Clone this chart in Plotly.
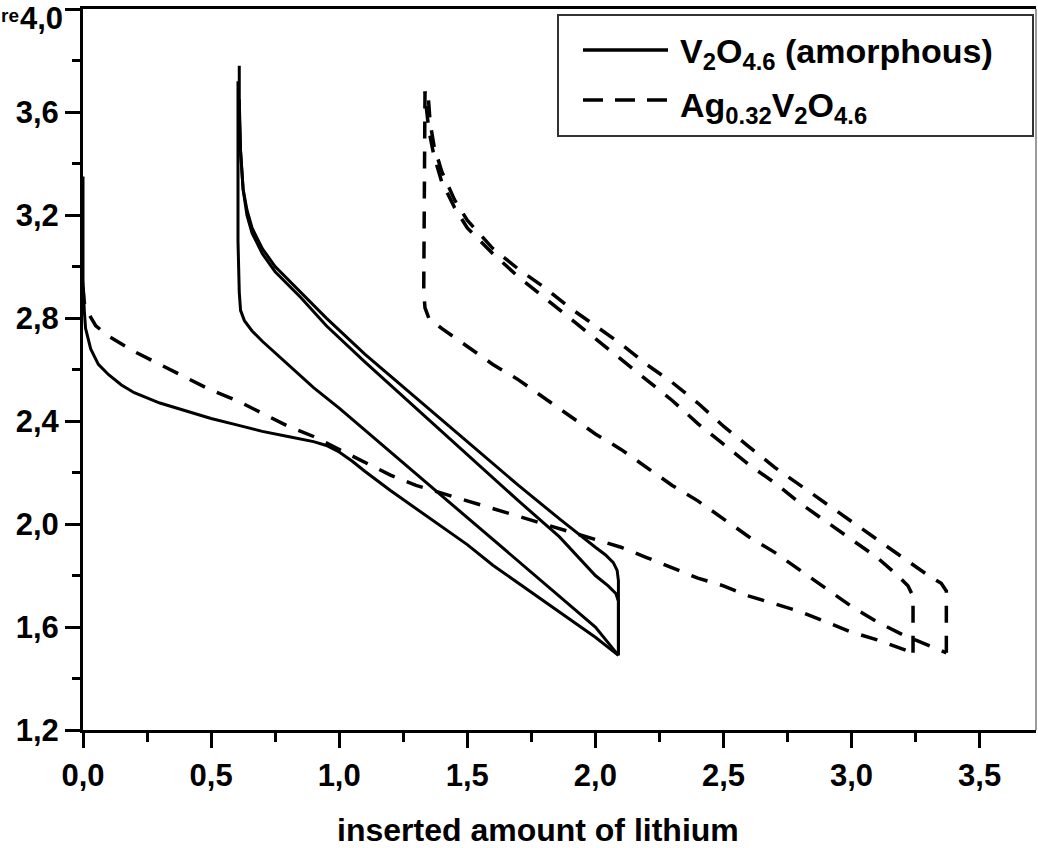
import plotly.graph_objects as go

# ---------------- data ----------------
# V2O4.6 (amorphous) - solid
v_dis1_x = [0.0, 0.0, 0.005, 0.01, 0.03, 0.06, 0.1, 0.15, 0.2, 0.3, 0.4, 0.5, 0.6, 0.7, 0.8, 0.9,
            0.95, 1.0, 1.05, 1.1, 1.2, 1.3, 1.4, 1.5, 1.6, 1.7, 1.8, 1.9, 2.0, 2.09]
v_dis1_y = [3.35, 2.95, 2.83, 2.76, 2.68, 2.62, 2.58, 2.54, 2.51, 2.47, 2.44, 2.41, 2.385, 2.36, 2.34, 2.32,
            2.305, 2.28, 2.245, 2.205, 2.13, 2.06, 1.99, 1.92, 1.84, 1.77, 1.70, 1.63, 1.56, 1.49]

v_ch1_x = [2.09, 2.09, 2.085, 2.07, 2.04, 2.0, 1.86, 1.7, 1.5, 1.3, 1.1, 0.95, 0.85, 0.75, 0.7, 0.66,
           0.64, 0.625, 0.615, 0.61, 0.61]
v_ch1_y = [1.49, 1.78, 1.82, 1.85, 1.88, 1.91, 2.02, 2.15, 2.32, 2.49, 2.66, 2.80, 2.90, 3.00, 3.07, 3.15,
           3.22, 3.30, 3.45, 3.60, 3.78]

v_dis2_x = [0.605, 0.605, 0.61, 0.615, 0.63, 0.66, 0.7, 0.8, 0.9, 1.0, 1.2, 1.4, 1.6, 1.8, 1.86, 2.0, 2.09]
v_dis2_y = [3.72, 3.10, 2.90, 2.83, 2.79, 2.75, 2.71, 2.62, 2.53, 2.45, 2.28, 2.11, 1.94, 1.77, 1.72, 1.60, 1.49]

v_ch2_x = [2.09, 2.09, 2.08, 2.05, 2.0, 1.86, 1.7, 1.5, 1.3, 1.1, 0.95, 0.85, 0.75, 0.7, 0.66, 0.64,
           0.625, 0.615, 0.61]
v_ch2_y = [1.49, 1.70, 1.73, 1.76, 1.80, 1.95, 2.09, 2.27, 2.45, 2.63, 2.77, 2.88, 2.98, 3.05, 3.13, 3.20,
           3.30, 3.45, 3.65]

# Ag0.32V2O4.6 - dashed
ag_dis1_x = [0.0, 0.005, 0.02, 0.05, 0.1, 0.15, 0.2, 0.3, 0.4, 0.5, 0.6, 0.7, 0.8, 0.9, 1.0, 1.1, 1.2,
             1.3, 1.4, 1.5, 1.6, 1.7, 1.8, 1.9, 2.0, 2.1, 2.2, 2.3, 2.4, 2.5, 2.6, 2.7, 2.8, 2.9, 3.0,
             3.1, 3.2, 3.24]
ag_dis1_y = [2.92, 2.86, 2.82, 2.77, 2.73, 2.70, 2.67, 2.62, 2.57, 2.52, 2.48, 2.43, 2.38, 2.34, 2.29,
             2.24, 2.19, 2.15, 2.12, 2.09, 2.06, 2.03, 2.00, 1.97, 1.94, 1.91, 1.87, 1.83, 1.79, 1.76,
             1.72, 1.69, 1.66, 1.62, 1.58, 1.55, 1.515, 1.50]

ag_ch1_x = [3.24, 3.24, 3.22, 3.18, 3.1, 3.0, 2.9, 2.8, 2.7, 2.6, 2.5, 2.4, 2.3, 2.2, 2.1, 2.0, 1.9,
            1.8, 1.7, 1.6, 1.5, 1.45, 1.4, 1.37, 1.35, 1.34, 1.335]
ag_ch1_y = [1.50, 1.72, 1.76, 1.80, 1.87, 1.94, 2.01, 2.08, 2.16, 2.23, 2.31, 2.39, 2.48, 2.56, 2.64,
            2.72, 2.80, 2.88, 2.96, 3.05, 3.15, 3.23, 3.33, 3.43, 3.53, 3.62, 3.68]

ag_dis2_x = [1.335, 1.33, 1.335, 1.35, 1.4, 1.5, 1.6, 1.7, 1.8, 1.9, 2.0, 2.1, 2.2, 2.3, 2.4, 2.5,
             2.6, 2.7, 2.8, 2.9, 3.0, 3.05, 3.1, 3.2, 3.3, 3.37]
ag_dis2_y = [3.68, 2.90, 2.84, 2.80, 2.76, 2.69, 2.62, 2.56, 2.49, 2.42, 2.35, 2.29, 2.22, 2.15, 2.09,
             2.02, 1.95, 1.89, 1.82, 1.75, 1.68, 1.65, 1.62, 1.57, 1.53, 1.50]

ag_ch2_x = [3.37, 3.37, 3.35, 3.3, 3.2, 3.1, 3.0, 2.9, 2.8, 2.7, 2.6, 2.5, 2.4, 2.3, 2.2, 2.1, 2.0,
            1.9, 1.8, 1.7, 1.6, 1.5, 1.45, 1.4, 1.37, 1.355, 1.35, 1.345]
ag_ch2_y = [1.50, 1.74, 1.77, 1.80, 1.87, 1.94, 2.01, 2.08, 2.15, 2.22, 2.30, 2.38, 2.47, 2.55, 2.62,
            2.70, 2.77, 2.84, 2.92, 2.99, 3.07, 3.18, 3.26, 3.37, 3.47, 3.56, 3.63, 3.69]

x_tick_vals = [0.0, 0.5, 1.0, 1.5, 2.0, 2.5, 3.0, 3.5]
y_tick_vals = [1.2, 1.6, 2.0, 2.4, 2.8, 3.2, 3.6, 4.0]
y_tick_text = ["1,2", "1,6", "2,0", "2,4", "2,8", "3,2", "3,6", ""]   # top label drawn separately
y_top_label = "4,0"

legend_solid_label = "V<sub>2</sub>O<sub>4.6</sub> (amorphous)"
legend_dash_label = "Ag<sub>0.32</sub>V<sub>2</sub>O<sub>4.6</sub>"
x_title = "inserted amount of lithium"

# ---------------- figure ----------------
FONT = "Liberation Sans, Arial, sans-serif"
fig = go.Figure()

solid_sets = [(v_dis1_x, v_dis1_y), (v_ch1_x, v_ch1_y), (v_dis2_x, v_dis2_y), (v_ch2_x, v_ch2_y)]
dash_sets = [(ag_dis1_x, ag_dis1_y), (ag_ch1_x, ag_ch1_y), (ag_dis2_x, ag_dis2_y), (ag_ch2_x, ag_ch2_y)]

for xs, ys in solid_sets:
    fig.add_trace(go.Scatter(x=xs, y=ys, mode="lines", showlegend=False,
                             line=dict(color="black", width=3)))
for xs, ys in dash_sets:
    fig.add_trace(go.Scatter(x=xs, y=ys, mode="lines", showlegend=False,
                             line=dict(color="black", width=3.5, dash="17px,13px")))

axis_common = dict(
    showgrid=False, zeroline=False, showline=True, linecolor="black", linewidth=3,
    ticks="outside", ticklen=15, tickwidth=3, tickcolor="black",
    tickfont=dict(family=FONT, size=31, color="black", weight="bold"),
    ticklabeloverflow="allow", automargin=False,
)

fig.update_xaxes(range=[0, 3.72], tickvals=x_tick_vals, tickformat=".1f", mirror=True,
                 minor=dict(ticks="outside", ticklen=9, tickwidth=3, tickcolor="black", dtick=0.25, tick0=0),
                 ticklabelstandoff=1,
                 **axis_common)
fig.update_yaxes(range=[1.2, 4.0005], tickvals=y_tick_vals, ticktext=y_tick_text, mirror=False,
                 minor=dict(ticks="outside", ticklen=8, tickwidth=3, tickcolor="black", dtick=0.2, tick0=1.2),
                 ticklabelstandoff=0,
                 **axis_common)

W, H = 1038, 848
L, R, T, B = 83, 2, 9, 118
pw, ph = W - L - R, H - T - B


def px(xp):
    return (xp - L) / pw


def py(yp):
    return (H - B - yp) / ph


shapes = [
    # right frame edge (gray in the reference)
    dict(type="line", xref="paper", yref="paper", x0=1, x1=1, y0=0, y1=1,
         line=dict(color="#9a9a9a", width=2)),
    # legend box
    dict(type="rect", xref="paper", yref="paper", x0=px(558), x1=px(1033), y0=py(136), y1=py(15),
         line=dict(color="#333333", width=2), fillcolor="white", layer="above"),
    dict(type="line", xref="paper", yref="paper", x0=px(583), x1=px(668), y0=py(50), y1=py(50),
         line=dict(color="black", width=3.5)),
    dict(type="line", xref="paper", yref="paper", x0=px(583), x1=px(668), y0=py(100), y1=py(100),
         line=dict(color="black", width=3.5, dash="20px,12px")),
]

annotations = [
    dict(xref="paper", yref="paper", x=px(678), y=py(54), xanchor="left", yanchor="middle",
         text=legend_solid_label, showarrow=False,
         font=dict(family=FONT, size=34, color="black", weight="bold")),
    dict(xref="paper", yref="paper", x=px(678), y=py(107), xanchor="left", yanchor="middle",
         text=legend_dash_label, showarrow=False,
         font=dict(family=FONT, size=34, color="black", weight="bold")),
    dict(xref="paper", yref="paper", x=px(64), y=py(0), xanchor="right", yanchor="top",
         text=y_top_label, showarrow=False, borderpad=0,
         font=dict(family=FONT, size=31, color="black", weight="bold")),
    dict(xref="paper", yref="paper", x=px(0), y=py(4), xanchor="left", yanchor="top",
         text="re", showarrow=False, borderpad=0,
         font=dict(family=FONT, size=19, color="black", weight="bold")),
    dict(xref="paper", yref="paper", x=px(538), y=py(830), xanchor="center", yanchor="middle",
         text=x_title, showarrow=False,
         font=dict(family=FONT, size=32, color="black", weight="bold")),
]

fig.update_layout(
    width=W, height=H,
    margin=dict(l=L, r=R, t=T, b=B, pad=0),
    paper_bgcolor="white", plot_bgcolor="white",
    separators=", ",
    shapes=shapes, annotations=annotations,
    showlegend=False,
)

fig.write_html("out.html")
